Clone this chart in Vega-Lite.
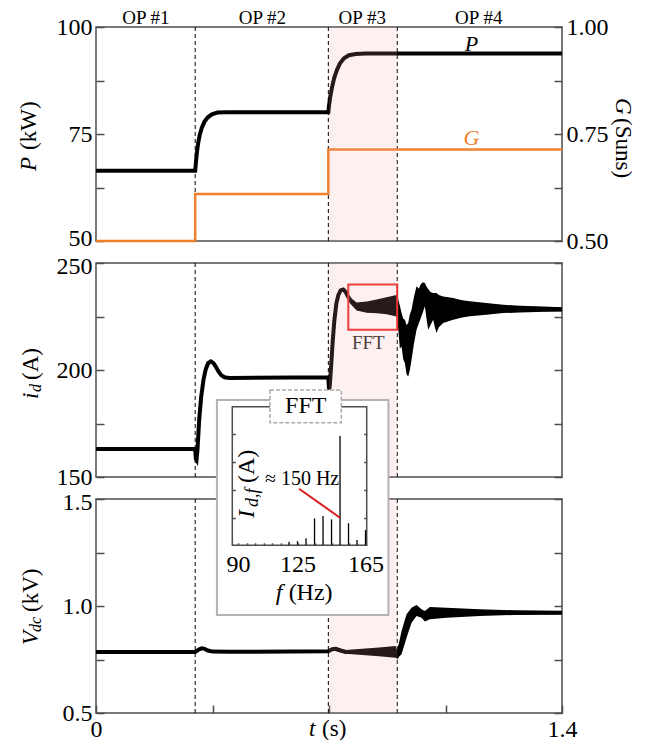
{
  "$schema": "https://vega.github.io/schema/vega-lite/v6.json",
  "background": "white",
  "padding": {"left": 17, "top": 7, "right": 5, "bottom": 2},
  "bounds": "flush",
  "spacing": 22,
  "config": {
    "view": {"stroke": "#4d4d4d", "strokeWidth": 1.5},
    "font": "Liberation Serif",
    "axis": {"grid": false, "domain": false, "tickColor": "#4d4d4d", "tickWidth": 1.5, "tickSize": -8, "labelFont": "Liberation Serif", "labelFontSize": 24, "labelColor": "black", "labelFlush": false, "labelOverlap": false},
    "text": {"font": "Liberation Serif", "color": "black"}
  },
  "datasets": {
    "P": [
      {"t": 0, "v": 66.4}, {"t": 0.298, "v": 66.4}, {"t": 0.3, "v": 68.2}, {"t": 0.303, "v": 70.6}, {"t": 0.307, "v": 72.9}, {"t": 0.312, "v": 74.9}, {"t": 0.318, "v": 76.5}, {"t": 0.326, "v": 77.9}, {"t": 0.336, "v": 78.9}, {"t": 0.348, "v": 79.6}, {"t": 0.365, "v": 80.0}, {"t": 0.39, "v": 80.1}, {"t": 0.698, "v": 80.1}, {"t": 0.7, "v": 81.6}, {"t": 0.704, "v": 83.8}, {"t": 0.709, "v": 85.9}, {"t": 0.716, "v": 88.2}, {"t": 0.724, "v": 90.0}, {"t": 0.733, "v": 91.5}, {"t": 0.745, "v": 92.7}, {"t": 0.76, "v": 93.4}, {"t": 0.78, "v": 93.7}, {"t": 0.81, "v": 93.8}, {"t": 1.4, "v": 93.8}
    ],
    "G": [
      {"t": 0, "v": 0.5}, {"t": 0.298, "v": 0.61}, {"t": 0.698, "v": 0.714}, {"t": 1.4, "v": 0.714}
    ],
    "ID": [
      {"t": 0, "v": 163.1}, {"t": 0.298, "v": 163.1}, {"t": 0.3, "v": 158.5}, {"t": 0.302, "v": 158}, {"t": 0.305, "v": 163}, {"t": 0.31, "v": 176.8}, {"t": 0.316, "v": 187.5}, {"t": 0.323, "v": 195.5}, {"t": 0.33, "v": 200.5}, {"t": 0.337, "v": 203.2}, {"t": 0.345, "v": 204}, {"t": 0.353, "v": 203.2}, {"t": 0.36, "v": 201.5}, {"t": 0.368, "v": 199.3}, {"t": 0.376, "v": 197.6}, {"t": 0.386, "v": 196.6}, {"t": 0.4, "v": 196.3}, {"t": 0.698, "v": 196.6}, {"t": 0.7, "v": 191}, {"t": 0.702, "v": 192}, {"t": 0.706, "v": 201}, {"t": 0.711, "v": 213}, {"t": 0.716, "v": 223}, {"t": 0.722, "v": 231}, {"t": 0.728, "v": 235}, {"t": 0.735, "v": 237.2}, {"t": 0.743, "v": 237.6}, {"t": 0.75, "v": 236.5}, {"t": 0.757, "v": 234.3}, {"t": 0.765, "v": 232.3}, {"t": 0.775, "v": 230.7}, {"t": 0.785, "v": 229.6}, {"t": 0.8, "v": 229.2}, {"t": 0.82, "v": 229.4}, {"t": 0.85, "v": 229.7}, {"t": 0.88, "v": 230}, {"t": 0.903, "v": 230}, {"t": 0.908, "v": 227}, {"t": 0.918, "v": 219}, {"t": 0.928, "v": 213}, {"t": 0.938, "v": 209.5}, {"t": 0.948, "v": 216.5}, {"t": 0.956, "v": 224}, {"t": 0.963, "v": 229}, {"t": 0.975, "v": 232}, {"t": 0.988, "v": 235}, {"t": 0.998, "v": 228}, {"t": 1.013, "v": 229.8}, {"t": 1.023, "v": 226.7}, {"t": 1.043, "v": 228.2}, {"t": 1.073, "v": 228.6}, {"t": 1.123, "v": 228.6}, {"t": 1.173, "v": 228.5}, {"t": 1.223, "v": 228.5}, {"t": 1.273, "v": 228.4}, {"t": 1.323, "v": 228.4}, {"t": 1.4, "v": 228.3}
    ],
    "IDB": [
      {"t": 0.757, "lo": 232.8, "hi": 235.5}, {"t": 0.765, "lo": 230.8, "hi": 233.8}, {"t": 0.783, "lo": 227.8, "hi": 231.5}, {"t": 0.813, "lo": 226.8, "hi": 232}, {"t": 0.843, "lo": 226.5, "hi": 233}, {"t": 0.873, "lo": 226, "hi": 234}, {"t": 0.903, "lo": 225, "hi": 235}, {"t": 0.908, "lo": 219, "hi": 233}, {"t": 0.913, "lo": 210, "hi": 230}, {"t": 0.918, "lo": 211, "hi": 226.6}, {"t": 0.923, "lo": 205, "hi": 224}, {"t": 0.928, "lo": 203.3, "hi": 223.5}, {"t": 0.933, "lo": 198, "hi": 221}, {"t": 0.938, "lo": 197, "hi": 222}, {"t": 0.943, "lo": 200, "hi": 226}, {"t": 0.948, "lo": 204.8, "hi": 228.2}, {"t": 0.955, "lo": 212, "hi": 234}, {"t": 0.963, "lo": 218.8, "hi": 239.1}, {"t": 0.97, "lo": 222, "hi": 238}, {"t": 0.975, "lo": 224, "hi": 240}, {"t": 0.982, "lo": 227, "hi": 241}, {"t": 0.988, "lo": 229.8, "hi": 240.7}, {"t": 0.993, "lo": 224, "hi": 239}, {"t": 0.998, "lo": 218.8, "hi": 237.9}, {"t": 1.005, "lo": 221, "hi": 236.5}, {"t": 1.013, "lo": 223.5, "hi": 236}, {"t": 1.018, "lo": 220, "hi": 236}, {"t": 1.023, "lo": 217.3, "hi": 236}, {"t": 1.03, "lo": 220, "hi": 235}, {"t": 1.043, "lo": 222, "hi": 234.4}, {"t": 1.073, "lo": 223.5, "hi": 233.6}, {"t": 1.1, "lo": 224.5, "hi": 232.6}, {"t": 1.123, "lo": 225.1, "hi": 232.1}, {"t": 1.173, "lo": 225.8, "hi": 231.3}, {"t": 1.223, "lo": 226.6, "hi": 230.5}, {"t": 1.273, "lo": 226.9, "hi": 230}, {"t": 1.323, "lo": 227.1, "hi": 229.8}, {"t": 1.4, "lo": 227.4, "hi": 229.3}
    ],
    "VD": [
      {"t": 0, "v": 0.785}, {"t": 0.298, "v": 0.785}, {"t": 0.303, "v": 0.79}, {"t": 0.31, "v": 0.798}, {"t": 0.318, "v": 0.802}, {"t": 0.326, "v": 0.8}, {"t": 0.336, "v": 0.792}, {"t": 0.35, "v": 0.787}, {"t": 0.4, "v": 0.786}, {"t": 0.698, "v": 0.788}, {"t": 0.702, "v": 0.792}, {"t": 0.71, "v": 0.798}, {"t": 0.72, "v": 0.8}, {"t": 0.735, "v": 0.792}, {"t": 0.75, "v": 0.785}, {"t": 0.8, "v": 0.785}, {"t": 0.85, "v": 0.785}, {"t": 0.9, "v": 0.785}, {"t": 0.905, "v": 0.772}, {"t": 0.918, "v": 0.828}, {"t": 0.933, "v": 0.906}, {"t": 0.948, "v": 0.957}, {"t": 0.963, "v": 0.979}, {"t": 0.972, "v": 0.975}, {"t": 0.978, "v": 0.965}, {"t": 0.988, "v": 0.952}, {"t": 1.003, "v": 0.966}, {"t": 1.053, "v": 0.968}, {"t": 1.153, "v": 0.969}, {"t": 1.253, "v": 0.969}, {"t": 1.4, "v": 0.969}
    ],
    "VDB": [
      {"t": 0.72, "lo": 0.79, "hi": 0.806}, {"t": 0.75, "lo": 0.777, "hi": 0.794}, {"t": 0.8, "lo": 0.771, "hi": 0.8}, {"t": 0.85, "lo": 0.765, "hi": 0.806}, {"t": 0.9, "lo": 0.758, "hi": 0.813}, {"t": 0.905, "lo": 0.755, "hi": 0.79}, {"t": 0.918, "lo": 0.774, "hi": 0.883}, {"t": 0.933, "lo": 0.852, "hi": 0.961}, {"t": 0.948, "lo": 0.922, "hi": 0.992}, {"t": 0.963, "lo": 0.953, "hi": 1.005}, {"t": 0.978, "lo": 0.945, "hi": 0.985}, {"t": 0.988, "lo": 0.927, "hi": 0.977}, {"t": 1.003, "lo": 0.938, "hi": 0.995}, {"t": 1.053, "lo": 0.945, "hi": 0.992}, {"t": 1.153, "lo": 0.953, "hi": 0.985}, {"t": 1.253, "lo": 0.958, "hi": 0.98}, {"t": 1.4, "lo": 0.961, "hi": 0.977}
    ],
    "BND": [{"t": 0.298}, {"t": 0.698}, {"t": 0.905}],
    "SHADE": [{"t0": 0.7, "t1": 0.905}],
    "OPS": [{"t": 0.15, "v": 102.2, "s": "OP #1"}, {"t": 0.5, "v": 102.2, "s": "OP #2"}, {"t": 0.8, "v": 102.2, "s": "OP #3"}, {"t": 1.15, "v": 102.2, "s": "OP #4"}],
    "FFT": [{"f": 120, "a": 0.025}, {"f": 125, "a": 0.03}, {"f": 130, "a": 0.05}, {"f": 135, "a": 0.194}, {"f": 140, "a": 0.211}, {"f": 145, "a": 0.187}, {"f": 150, "a": 0.789}, {"f": 155, "a": 0.159}, {"f": 160, "a": 0.038}, {"f": 165, "a": 0.11}]
  },
  "vconcat": [
    {
      "width": 466,
      "height": 214,
      "layer": [
        {
          "data": {"name": "BND"},
          "mark": {"type": "rule", "color": "black", "strokeWidth": 1, "strokeDash": [4, 3]},
          "encoding": {"x": {"field": "t", "type": "quantitative", "scale": {"domain": [0, 1.4], "nice": false, "zero": false}, "axis": {"title": null, "values": [0, 0.35, 0.7, 1.05, 1.4], "labels": false}}}
        },
        {
          "data": {"name": "P"},
          "mark": {"type": "line", "color": "black", "strokeWidth": 4},
          "encoding": {
            "x": {"field": "t", "type": "quantitative", "scale": {"domain": [0, 1.4], "nice": false, "zero": false}, "axis": null},
            "y": {"field": "v", "type": "quantitative", "scale": {"domain": [50, 100], "nice": false, "zero": false}, "axis": {"title": null, "orient": "left", "values": [50, 62.5, 75, 87.5, 100], "labelExpr": "datum.value % 25 == 0 ? datum.label : ''", "format": "d", "labelPadding": 12, "labelOffset": {"condition": {"test": "datum.value == 50", "value": -3}, "value": 0}}}
          }
        },
        {
          "data": {"name": "G"},
          "mark": {"type": "line", "color": "#f0812f", "strokeWidth": 2.5, "interpolate": "step-after"},
          "encoding": {
            "x": {"field": "t", "type": "quantitative", "scale": {"domain": [0, 1.4], "nice": false, "zero": false}, "axis": null},
            "y": {"field": "v", "type": "quantitative", "scale": {"domain": [0.5, 1], "nice": false, "zero": false}, "axis": {"title": null, "orient": "right", "values": [0.5, 0.625, 0.75, 0.875, 1], "labelExpr": "datum.value == 0.625 || datum.value == 0.875 ? '' : datum.label", "format": ".2f", "labelPadding": 12}}
          }
        },
        {
          "data": {"name": "OPS"},
          "mark": {"type": "text", "fontSize": 19, "baseline": "middle", "align": "center"},
          "encoding": {
            "x": {"field": "t", "type": "quantitative", "scale": {"domain": [0, 1.4], "nice": false, "zero": false}, "axis": null},
            "y": {"field": "v", "type": "quantitative", "scale": {"domain": [50, 100], "nice": false, "zero": false}, "axis": null},
            "text": {"field": "s"}
          }
        },
        {
          "data": {"values": [{"t": 1.128, "v": 96, "s": "P"}]},
          "mark": {"type": "text", "fontSize": 22, "fontStyle": "italic", "baseline": "middle", "align": "center"},
          "encoding": {
            "x": {"field": "t", "type": "quantitative", "scale": {"domain": [0, 1.4], "nice": false, "zero": false}, "axis": null},
            "y": {"field": "v", "type": "quantitative", "scale": {"domain": [50, 100], "nice": false, "zero": false}, "axis": null},
            "text": {"field": "s"}
          }
        },
        {
          "data": {"values": [{"t": 1.128, "v": 0.7414, "s": "G"}]},
          "mark": {"type": "text", "fontSize": 22, "fontStyle": "italic", "baseline": "middle", "align": "center", "color": "#f0812f"},
          "encoding": {
            "x": {"field": "t", "type": "quantitative", "scale": {"domain": [0, 1.4], "nice": false, "zero": false}, "axis": null},
            "y": {"field": "v", "type": "quantitative", "scale": {"domain": [0.5, 1], "nice": false, "zero": false}, "axis": null},
            "text": {"field": "s"}
          }
        },
        {
          "data": {"values": [{"t": -0.2, "v": 66.36, "s": "P"}]},
          "mark": {"type": "text", "fontSize": 23, "fontStyle": "italic", "baseline": "middle", "align": "left", "angle": 270},
          "encoding": {
            "x": {"field": "t", "type": "quantitative", "scale": {"domain": [0, 1.4], "nice": false, "zero": false}, "axis": null},
            "y": {"field": "v", "type": "quantitative", "scale": {"domain": [50, 100], "nice": false, "zero": false}, "axis": null},
            "text": {"field": "s"}
          }
        },
        {
          "data": {"values": [{"t": -0.2, "v": 66.36, "s": "(kW)"}]},
          "mark": {"type": "text", "fontSize": 23, "baseline": "middle", "align": "left", "angle": 270, "dx": 21},
          "encoding": {
            "x": {"field": "t", "type": "quantitative", "scale": {"domain": [0, 1.4], "nice": false, "zero": false}, "axis": null},
            "y": {"field": "v", "type": "quantitative", "scale": {"domain": [50, 100], "nice": false, "zero": false}, "axis": null},
            "text": {"field": "s"}
          }
        },
        {
          "data": {"values": [{"t": 1.583, "v": 0.834, "s": "G"}]},
          "mark": {"type": "text", "fontSize": 23, "fontStyle": "italic", "baseline": "middle", "align": "left", "angle": 90},
          "encoding": {
            "x": {"field": "t", "type": "quantitative", "scale": {"domain": [0, 1.4], "nice": false, "zero": false}, "axis": null},
            "y": {"field": "v", "type": "quantitative", "scale": {"domain": [0.5, 1], "nice": false, "zero": false}, "axis": null},
            "text": {"field": "s"}
          }
        },
        {
          "data": {"values": [{"t": 1.583, "v": 0.834, "s": "(Suns)"}]},
          "mark": {"type": "text", "fontSize": 23, "baseline": "middle", "align": "left", "angle": 90, "dx": 20},
          "encoding": {
            "x": {"field": "t", "type": "quantitative", "scale": {"domain": [0, 1.4], "nice": false, "zero": false}, "axis": null},
            "y": {"field": "v", "type": "quantitative", "scale": {"domain": [0.5, 1], "nice": false, "zero": false}, "axis": null},
            "text": {"field": "s"}
          }
        },
        {
          "data": {"name": "SHADE"},
          "mark": {"type": "rect", "fill": "#f2a0a0", "opacity": 0.16},
          "encoding": {
            "x": {"field": "t0", "type": "quantitative", "scale": {"domain": [0, 1.4], "nice": false, "zero": false}, "axis": null},
            "x2": {"field": "t1"}
          }
        }
      ],
      "resolve": {"scale": {"y": "independent"}}
    },
    {
      "width": 466,
      "height": 214,
      "layer": [
        {
          "data": {"name": "BND"},
          "mark": {"type": "rule", "color": "black", "strokeWidth": 1, "strokeDash": [4, 3]},
          "encoding": {"x": {"field": "t", "type": "quantitative", "scale": {"domain": [0, 1.4], "nice": false, "zero": false}, "axis": {"title": null, "values": [0, 0.35, 0.7, 1.05, 1.4], "labels": false}}}
        },
        {
          "data": {"name": "IDB"},
          "mark": {"type": "area", "color": "black", "opacity": 1},
          "encoding": {
            "x": {"field": "t", "type": "quantitative", "scale": {"domain": [0, 1.4], "nice": false, "zero": false}, "axis": null},
            "y": {"field": "lo", "type": "quantitative", "scale": {"domain": [150, 250], "nice": false, "zero": false}, "axis": {"title": null, "orient": "left", "values": [150, 175, 200, 225, 250], "labelExpr": "datum.value % 50 == 0 ? datum.label : ''", "format": "d", "labelPadding": 12, "labelOffset": {"condition": {"test": "datum.value == 250", "value": 3}, "value": 0}}},
            "y2": {"field": "hi"}
          }
        },
        {
          "data": {"name": "ID"},
          "mark": {"type": "line", "color": "black", "strokeWidth": 4},
          "encoding": {
            "x": {"field": "t", "type": "quantitative", "scale": {"domain": [0, 1.4], "nice": false, "zero": false}, "axis": null},
            "y": {"field": "v", "type": "quantitative", "scale": {"domain": [150, 250], "nice": false, "zero": false}, "axis": null}
          }
        },
        {
          "data": {"values": [{"t": 0.818, "v": 212.6, "s": "FFT"}]},
          "mark": {"type": "text", "fontSize": 19, "baseline": "middle", "align": "center", "color": "#2a2a2a"},
          "encoding": {
            "x": {"field": "t", "type": "quantitative", "scale": {"domain": [0, 1.4], "nice": false, "zero": false}, "axis": null},
            "y": {"field": "v", "type": "quantitative", "scale": {"domain": [150, 250], "nice": false, "zero": false}, "axis": null},
            "text": {"field": "s"}
          }
        },
        {
          "data": {"values": [{"t": -0.195, "v": 186.45, "s": "i"}]},
          "mark": {"type": "text", "fontSize": 23, "fontStyle": "italic", "baseline": "middle", "align": "left", "angle": 270},
          "encoding": {
            "x": {"field": "t", "type": "quantitative", "scale": {"domain": [0, 1.4], "nice": false, "zero": false}, "axis": null},
            "y": {"field": "v", "type": "quantitative", "scale": {"domain": [150, 250], "nice": false, "zero": false}, "axis": null},
            "text": {"field": "s"}
          }
        },
        {
          "data": {"values": [{"t": -0.195, "v": 186.45, "s": "d"}]},
          "mark": {"type": "text", "fontSize": 16, "fontStyle": "italic", "baseline": "middle", "align": "left", "angle": 270, "dx": 7, "dy": 5},
          "encoding": {
            "x": {"field": "t", "type": "quantitative", "scale": {"domain": [0, 1.4], "nice": false, "zero": false}, "axis": null},
            "y": {"field": "v", "type": "quantitative", "scale": {"domain": [150, 250], "nice": false, "zero": false}, "axis": null},
            "text": {"field": "s"}
          }
        },
        {
          "data": {"values": [{"t": -0.195, "v": 186.45, "s": "(A)"}]},
          "mark": {"type": "text", "fontSize": 23, "baseline": "middle", "align": "left", "angle": 270, "dx": 19},
          "encoding": {
            "x": {"field": "t", "type": "quantitative", "scale": {"domain": [0, 1.4], "nice": false, "zero": false}, "axis": null},
            "y": {"field": "v", "type": "quantitative", "scale": {"domain": [150, 250], "nice": false, "zero": false}, "axis": null},
            "text": {"field": "s"}
          }
        },
        {
          "data": {"values": [{"t0": 0.758, "t1": 0.905, "lo": 218.8, "hi": 239.9}]},
          "mark": {"type": "rect", "fill": "white", "fillOpacity": 0, "stroke": "#ee2b2b", "strokeWidth": 2},
          "encoding": {
            "x": {"field": "t0", "type": "quantitative", "scale": {"domain": [0, 1.4], "nice": false, "zero": false}, "axis": null},
            "x2": {"field": "t1"},
            "y": {"field": "lo", "type": "quantitative", "scale": {"domain": [150, 250], "nice": false, "zero": false}, "axis": null},
            "y2": {"field": "hi"}
          }
        },
        {
          "data": {"name": "SHADE"},
          "mark": {"type": "rect", "fill": "#f2a0a0", "opacity": 0.16},
          "encoding": {
            "x": {"field": "t0", "type": "quantitative", "scale": {"domain": [0, 1.4], "nice": false, "zero": false}, "axis": null},
            "x2": {"field": "t1"}
          }
        },
        {
          "data": {"values": [{"v": 200}]},
          "mark": {"type": "rule", "opacity": 0},
          "encoding": {
            "y": {"field": "v", "type": "quantitative", "scale": {"domain": [150, 250], "nice": false, "zero": false}, "axis": {"title": null, "orient": "right", "values": [150, 175, 200, 225, 250], "labels": false}}
          }
        }
      ],
      "resolve": {"scale": {"y": "independent"}}
    },
    {
      "width": 466,
      "height": 214,
      "layer": [
        {
          "data": {"name": "BND"},
          "mark": {"type": "rule", "color": "black", "strokeWidth": 1, "strokeDash": [4, 3]},
          "encoding": {"x": {"field": "t", "type": "quantitative", "scale": {"domain": [0, 1.4], "nice": false, "zero": false}, "axis": {"title": null, "values": [0, 0.35, 0.7, 1.05, 1.4], "labelExpr": "datum.value == 0 ? '0' : datum.value == 1.4 ? '1.4' : ''", "labelBaseline": "middle", "labelPadding": 24}}}
        },
        {
          "data": {"name": "VDB"},
          "mark": {"type": "area", "color": "black", "opacity": 1},
          "encoding": {
            "x": {"field": "t", "type": "quantitative", "scale": {"domain": [0, 1.4], "nice": false, "zero": false}, "axis": null},
            "y": {"field": "lo", "type": "quantitative", "scale": {"domain": [0.5, 1.5], "nice": false, "zero": false}, "axis": {"title": null, "orient": "left", "values": [0.5, 0.75, 1, 1.25, 1.5], "labelExpr": "datum.value == 0.75 || datum.value == 1.25 ? '' : datum.label", "format": ".1f", "labelPadding": 12, "labelOffset": {"condition": {"test": "datum.value == 1.5", "value": 3}, "value": 0}}},
            "y2": {"field": "hi"}
          }
        },
        {
          "data": {"name": "VD"},
          "mark": {"type": "line", "color": "black", "strokeWidth": 4},
          "encoding": {
            "x": {"field": "t", "type": "quantitative", "scale": {"domain": [0, 1.4], "nice": false, "zero": false}, "axis": null},
            "y": {"field": "v", "type": "quantitative", "scale": {"domain": [0.5, 1.5], "nice": false, "zero": false}, "axis": null}
          }
        },
        {
          "data": {"values": [{"t": -0.195, "v": 0.8178, "s": "V"}]},
          "mark": {"type": "text", "fontSize": 23, "fontStyle": "italic", "baseline": "middle", "align": "left", "angle": 270},
          "encoding": {
            "x": {"field": "t", "type": "quantitative", "scale": {"domain": [0, 1.4], "nice": false, "zero": false}, "axis": null},
            "y": {"field": "v", "type": "quantitative", "scale": {"domain": [0.5, 1.5], "nice": false, "zero": false}, "axis": null},
            "text": {"field": "s"}
          }
        },
        {
          "data": {"values": [{"t": -0.195, "v": 0.8178, "s": "dc"}]},
          "mark": {"type": "text", "fontSize": 16, "fontStyle": "italic", "baseline": "middle", "align": "left", "angle": 270, "dx": 13, "dy": 5},
          "encoding": {
            "x": {"field": "t", "type": "quantitative", "scale": {"domain": [0, 1.4], "nice": false, "zero": false}, "axis": null},
            "y": {"field": "v", "type": "quantitative", "scale": {"domain": [0.5, 1.5], "nice": false, "zero": false}, "axis": null},
            "text": {"field": "s"}
          }
        },
        {
          "data": {"values": [{"t": -0.195, "v": 0.8178, "s": "(kV)"}]},
          "mark": {"type": "text", "fontSize": 23, "baseline": "middle", "align": "left", "angle": 270, "dx": 33},
          "encoding": {
            "x": {"field": "t", "type": "quantitative", "scale": {"domain": [0, 1.4], "nice": false, "zero": false}, "axis": null},
            "y": {"field": "v", "type": "quantitative", "scale": {"domain": [0.5, 1.5], "nice": false, "zero": false}, "axis": null},
            "text": {"field": "s"}
          }
        },
        {
          "data": {"values": [{"t": 0.64, "v": 0.4252, "s": "t"}]},
          "mark": {"type": "text", "fontSize": 23, "fontStyle": "italic", "baseline": "middle", "align": "left"},
          "encoding": {
            "x": {"field": "t", "type": "quantitative", "scale": {"domain": [0, 1.4], "nice": false, "zero": false}, "axis": null},
            "y": {"field": "v", "type": "quantitative", "scale": {"domain": [0.5, 1.5], "nice": false, "zero": false}, "axis": null},
            "text": {"field": "s"}
          }
        },
        {
          "data": {"values": [{"t": 0.64, "v": 0.4252, "s": "(s)"}]},
          "mark": {"type": "text", "fontSize": 23, "baseline": "middle", "align": "left", "dx": 13},
          "encoding": {
            "x": {"field": "t", "type": "quantitative", "scale": {"domain": [0, 1.4], "nice": false, "zero": false}, "axis": null},
            "y": {"field": "v", "type": "quantitative", "scale": {"domain": [0.5, 1.5], "nice": false, "zero": false}, "axis": null},
            "text": {"field": "s"}
          }
        },
        {
          "data": {"name": "SHADE"},
          "mark": {"type": "rect", "fill": "#f2a0a0", "opacity": 0.16},
          "encoding": {
            "x": {"field": "t0", "type": "quantitative", "scale": {"domain": [0, 1.4], "nice": false, "zero": false}, "axis": null},
            "x2": {"field": "t1"}
          }
        },
        {
          "data": {"values": [{"v": 1}]},
          "mark": {"type": "rule", "opacity": 0},
          "encoding": {
            "y": {"field": "v", "type": "quantitative", "scale": {"domain": [0.5, 1.5], "nice": false, "zero": false}, "axis": {"title": null, "orient": "right", "values": [0.5, 0.75, 1, 1.25, 1.5], "labels": false}}
          }
        },
        {
          "data": {"values": [{"f0": 77.54, "f1": 178.5, "a0": -0.503, "a1": 1.048}]},
          "mark": {"type": "rect", "fill": "white", "stroke": "#b3b3b3", "strokeWidth": 2},
          "encoding": {
            "x": {"field": "f0", "type": "quantitative", "scale": {"domain": [86.6, 165.7], "range": [136.3, 270.7], "nice": false, "zero": false}, "axis": null},
            "x2": {"field": "f1"},
            "y": {"field": "a0", "type": "quantitative", "scale": {"domain": [0, 1], "range": [46.3, -92.3], "nice": false, "zero": false}, "axis": null},
            "y2": {"field": "a1"}
          }
        },
        {
          "data": {"values": [{"f0": 86.6, "f1": 165.7, "a0": 0, "a1": 1}]},
          "mark": {"type": "rect", "fill": "white", "fillOpacity": 0, "stroke": "#4d4d4d", "strokeWidth": 1.5},
          "encoding": {
            "x": {"field": "f0", "type": "quantitative", "scale": {"domain": [86.6, 165.7], "range": [136.3, 270.7], "nice": false, "zero": false}, "axis": null},
            "x2": {"field": "f1"},
            "y": {"field": "a0", "type": "quantitative", "scale": {"domain": [0, 1], "range": [46.3, -92.3], "nice": false, "zero": false}, "axis": {"title": null, "orient": "right", "offset": -195.3, "values": [0.2, 0.4, 0.6, 0.8], "labels": false, "tickSize": -3, "zindex": 1}},
            "y2": {"field": "a1"}
          }
        },
        {
          "data": {"name": "FFT"},
          "mark": {"type": "rule", "color": "black", "strokeWidth": 1.3},
          "encoding": {
            "x": {"field": "f", "type": "quantitative", "scale": {"domain": [86.6, 165.7], "range": [136.3, 270.7], "nice": false, "zero": false}, "axis": {"title": null, "orient": "bottom", "offset": -167.7, "values": [90, 95, 100, 105, 110, 115, 120, 125, 130, 135, 140, 145, 150, 155, 160, 165], "labelExpr": "datum.value == 90 || datum.value == 125 || datum.value == 165 ? datum.label : ''", "tickSize": -2.5, "labelBaseline": "middle", "labelPadding": 22, "zindex": 1}},
            "y": {"field": "a", "type": "quantitative", "scale": {"domain": [0, 1], "range": [46.3, -92.3], "nice": false, "zero": false}, "axis": {"title": null, "orient": "left", "offset": -136.3, "values": [0.2, 0.4, 0.6, 0.8], "labels": false, "tickSize": -3, "zindex": 1}},
            "y2": {"datum": 0}
          }
        },
        {
          "data": {"values": [{"f0": 108.8, "f1": 150.75, "a0": 0.8846, "a1": 1.1205}]},
          "mark": {"type": "rect", "fill": "white", "stroke": "#aaaaaa", "strokeWidth": 1.5, "strokeDash": [4, 2]},
          "encoding": {
            "x": {"field": "f0", "type": "quantitative", "scale": {"domain": [86.6, 165.7], "range": [136.3, 270.7], "nice": false, "zero": false}, "axis": null},
            "x2": {"field": "f1"},
            "y": {"field": "a0", "type": "quantitative", "scale": {"domain": [0, 1], "range": [46.3, -92.3], "nice": false, "zero": false}, "axis": null},
            "y2": {"field": "a1"}
          }
        },
        {
          "data": {"values": [{"f": 129.8, "a": 1.005, "s": "FFT"}]},
          "mark": {"type": "text", "fontSize": 24, "baseline": "middle", "align": "center"},
          "encoding": {
            "x": {"field": "f", "type": "quantitative", "scale": {"domain": [86.6, 165.7], "range": [136.3, 270.7], "nice": false, "zero": false}, "axis": null},
            "y": {"field": "a", "type": "quantitative", "scale": {"domain": [0, 1], "range": [46.3, -92.3], "nice": false, "zero": false}, "axis": null},
            "text": {"field": "s"}
          }
        },
        {
          "data": {"values": [{"f0": 125.9, "a0": 0.408, "f1": 150, "a1": 0.199}]},
          "mark": {"type": "rule", "color": "#dd1c1c", "strokeWidth": 2},
          "encoding": {
            "x": {"field": "f0", "type": "quantitative", "scale": {"domain": [86.6, 165.7], "range": [136.3, 270.7], "nice": false, "zero": false}, "axis": null},
            "x2": {"field": "f1"},
            "y": {"field": "a0", "type": "quantitative", "scale": {"domain": [0, 1], "range": [46.3, -92.3], "nice": false, "zero": false}, "axis": null},
            "y2": {"field": "a1"}
          }
        },
        {
          "data": {"values": [{"f": 105.8, "a": 0.476, "s": "≈ 150 Hz"}]},
          "mark": {"type": "text", "fontSize": 20, "baseline": "middle", "align": "left"},
          "encoding": {
            "x": {"field": "f", "type": "quantitative", "scale": {"domain": [86.6, 165.7], "range": [136.3, 270.7], "nice": false, "zero": false}, "axis": null},
            "y": {"field": "a", "type": "quantitative", "scale": {"domain": [0, 1], "range": [46.3, -92.3], "nice": false, "zero": false}, "axis": null},
            "text": {"field": "s"}
          }
        },
        {
          "data": {"values": [{"f": 95.25, "a": 0.197, "s": "I"}]},
          "mark": {"type": "text", "fontSize": 24, "fontStyle": "italic", "baseline": "middle", "align": "left", "angle": 270},
          "encoding": {
            "x": {"field": "f", "type": "quantitative", "scale": {"domain": [86.6, 165.7], "range": [136.3, 270.7], "nice": false, "zero": false}, "axis": null},
            "y": {"field": "a", "type": "quantitative", "scale": {"domain": [0, 1], "range": [46.3, -92.3], "nice": false, "zero": false}, "axis": null},
            "text": {"field": "s"}
          }
        },
        {
          "data": {"values": [{"f": 95.25, "a": 0.197, "s": "d,f"}]},
          "mark": {"type": "text", "fontSize": 18, "fontStyle": "italic", "baseline": "middle", "align": "left", "angle": 270, "dx": 11, "dy": 6},
          "encoding": {
            "x": {"field": "f", "type": "quantitative", "scale": {"domain": [86.6, 165.7], "range": [136.3, 270.7], "nice": false, "zero": false}, "axis": null},
            "y": {"field": "a", "type": "quantitative", "scale": {"domain": [0, 1], "range": [46.3, -92.3], "nice": false, "zero": false}, "axis": null},
            "text": {"field": "s"}
          }
        },
        {
          "data": {"values": [{"f": 95.25, "a": 0.197, "s": "(A)"}]},
          "mark": {"type": "text", "fontSize": 24, "baseline": "middle", "align": "left", "angle": 270, "dx": 35},
          "encoding": {
            "x": {"field": "f", "type": "quantitative", "scale": {"domain": [86.6, 165.7], "range": [136.3, 270.7], "nice": false, "zero": false}, "axis": null},
            "y": {"field": "a", "type": "quantitative", "scale": {"domain": [0, 1], "range": [46.3, -92.3], "nice": false, "zero": false}, "axis": null},
            "text": {"field": "s"}
          }
        },
        {
          "data": {"values": [{"f": 112.1, "a": -0.342, "s": "f"}]},
          "mark": {"type": "text", "fontSize": 24, "fontStyle": "italic", "baseline": "middle", "align": "left"},
          "encoding": {
            "x": {"field": "f", "type": "quantitative", "scale": {"domain": [86.6, 165.7], "range": [136.3, 270.7], "nice": false, "zero": false}, "axis": null},
            "y": {"field": "a", "type": "quantitative", "scale": {"domain": [0, 1], "range": [46.3, -92.3], "nice": false, "zero": false}, "axis": null},
            "text": {"field": "s"}
          }
        },
        {
          "data": {"values": [{"f": 112.1, "a": -0.342, "s": "(Hz)"}]},
          "mark": {"type": "text", "fontSize": 24, "baseline": "middle", "align": "left", "dx": 13},
          "encoding": {
            "x": {"field": "f", "type": "quantitative", "scale": {"domain": [86.6, 165.7], "range": [136.3, 270.7], "nice": false, "zero": false}, "axis": null},
            "y": {"field": "a", "type": "quantitative", "scale": {"domain": [0, 1], "range": [46.3, -92.3], "nice": false, "zero": false}, "axis": null},
            "text": {"field": "s"}
          }
        }
      ],
      "resolve": {"scale": {"x": "independent", "y": "independent"}}
    }
  ]
}
